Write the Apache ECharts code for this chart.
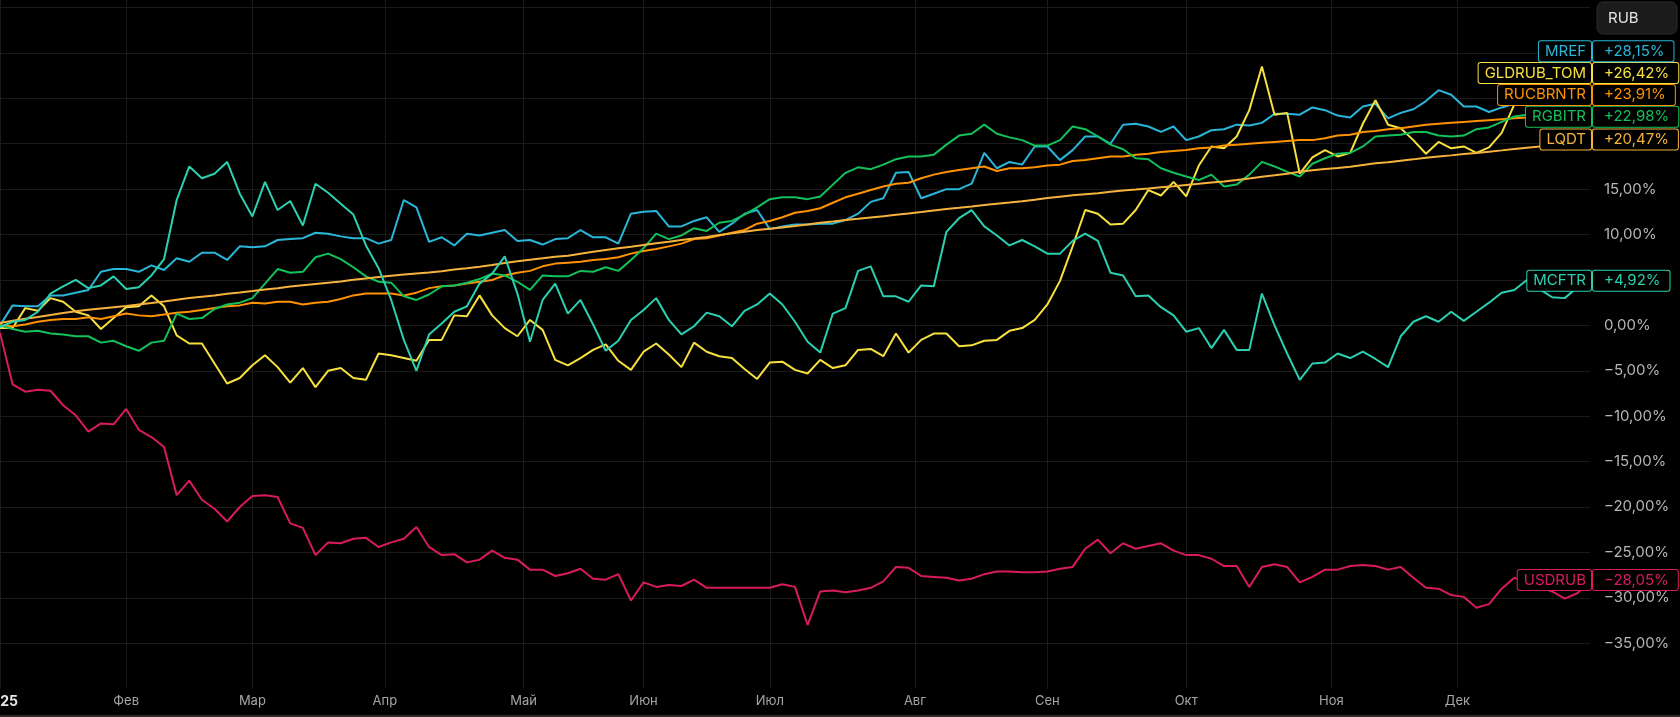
<!DOCTYPE html>
<html>
<head>
<meta charset="utf-8">
<style>
  html, body { margin: 0; padding: 0; background: #000; }
  #chart { width: 1680px; height: 717px; }
</style>
<script src="https://cdn.jsdelivr.net/npm/echarts@6/dist/echarts.min.js"></script>
</head>
<body>
<div id="chart"></div>
<script>
// торговые дни по месяцам 2025 (первая подпись - год)
const monthNames = ['2025', 'Фев', 'Мар', 'Апр', 'Май', 'Июн', 'Июл', 'Авг', 'Сен', 'Окт', 'Ноя', 'Дек'];
const tradingDays = [20, 20, 21, 22, 19, 20, 23, 21, 22, 23, 20, 22];
const step = 2; // значения ниже - каждый 2-й торговый день, %

const mref = [
  0.0, 2.2, 2.1, 2.1, 3.3, 3.3, 3.6, 3.9, 5.9, 6.2,
  6.2, 5.9, 6.6, 6.1, 7.4, 7.0, 8.0, 8.0, 7.2, 8.7,
  8.6, 8.7, 9.4, 9.5, 9.6, 10.2, 10.1, 9.8, 9.6, 9.6,
  9.0, 9.4, 13.8, 13.0, 9.2, 9.7, 8.8, 10.1, 9.9, 10.2,
  10.5, 9.3, 9.4, 8.9, 9.5, 9.6, 10.5, 9.7, 9.7, 9.0,
  12.3, 12.5, 12.6, 10.9, 10.9, 11.5, 11.9, 10.3, 11.2, 12.3,
  12.7, 10.6, 10.9, 11.1, 11.1, 11.2, 11.2, 11.6, 12.3, 13.6,
  14.0, 16.8, 16.9, 14.0, 14.5, 15.0, 15.0, 15.6, 19.0, 17.3,
  18.0, 17.7, 19.7, 19.7, 18.2, 19.3, 20.8, 20.8, 20.0, 22.1,
  22.2, 21.9, 21.3, 21.9, 20.4, 20.8, 21.5, 21.6, 22.1, 22.0,
  22.3, 23.3, 23.3, 23.2, 24.0, 23.7, 23.1, 22.9, 24.1, 24.4,
  22.8, 23.4, 23.8, 24.7, 25.9, 25.4, 24.1, 24.1, 23.5, 24.0,
  24.4, 25.3, 26.3, 27.0, 27.4, 27.8, 28.15
];
const gldrub = [
  -0.3, -0.3, 1.9, 1.6, 3.0, 2.6, 1.5, 1.1, -0.4, 0.8,
  2.0, 2.1, 3.3, 2.1, -1.1, -2.0, -2.0, -4.2, -6.4, -5.8,
  -4.4, -3.3, -4.6, -6.3, -4.7, -6.8, -5.0, -4.7, -5.8, -6.0,
  -3.1, -3.3, -3.6, -3.9, -1.6, -1.6, 1.1, 1.0, 3.3, 1.1,
  -0.3, -1.2, 0.6, -0.5, -3.8, -4.4, -3.6, -2.7, -2.1, -3.9,
  -4.9, -2.9, -2.0, -3.2, -4.6, -1.9, -2.9, -3.4, -3.6, -4.8,
  -5.9, -4.1, -4.0, -4.9, -5.3, -3.8, -4.7, -4.4, -2.7, -2.6,
  -3.4, -0.9, -3.0, -1.6, -0.9, -0.9, -2.3, -2.2, -1.7, -1.6,
  -0.6, -0.3, 0.6, 2.3, 4.9, 8.7, 12.7, 12.3, 11.1, 11.2,
  12.7, 14.9, 14.3, 15.8, 14.2, 17.6, 19.7, 19.5, 20.8, 23.7,
  28.5, 23.2, 23.4, 16.7, 18.5, 19.3, 18.6, 19.0, 22.2, 24.8,
  22.1, 21.7, 20.4, 18.9, 20.2, 19.5, 19.7, 19.0, 19.6, 21.2,
  24.3, 26.0, 26.8, 26.5, 26.2, 26.3, 26.42
];
const rucbrntr = [
  0.0, -0.1, 0.1, 0.4, 0.6, 0.7, 0.7, 0.9, 0.7, 1.0,
  1.3, 1.1, 1.0, 1.2, 1.4, 1.5, 1.7, 1.9, 2.1, 2.2,
  2.5, 2.4, 2.6, 2.6, 2.3, 2.5, 2.6, 2.9, 3.3, 3.5,
  3.5, 3.5, 3.3, 3.6, 4.1, 4.3, 4.4, 4.6, 4.8, 5.0,
  5.5, 5.8, 6.0, 6.5, 6.8, 6.9, 7.0, 7.2, 7.3, 7.5,
  7.9, 8.2, 8.4, 8.7, 9.0, 9.5, 9.6, 9.9, 10.2, 10.5,
  11.2, 11.5, 11.9, 12.4, 12.6, 12.9, 13.5, 14.1, 14.5, 14.9,
  15.3, 15.6, 15.7, 16.2, 16.6, 16.9, 17.1, 17.3, 17.5, 17.0,
  17.3, 17.3, 17.4, 17.6, 17.7, 18.1, 18.2, 18.4, 18.6, 18.6,
  18.8, 18.9, 19.1, 19.2, 19.3, 19.5, 19.6, 19.8, 19.9, 20.0,
  20.1, 20.2, 20.3, 20.4, 20.4, 20.6, 20.9, 21.0, 21.3, 21.4,
  21.6, 21.7, 21.9, 22.1, 22.2, 22.3, 22.4, 22.5, 22.6, 22.7,
  22.8, 22.9, 23.1, 23.3, 23.5, 23.7, 23.91
];
const rgbitr = [
  0.0, -0.4, -0.7, -0.6, -0.9, -1.0, -1.2, -1.2, -1.9, -1.7,
  -2.3, -2.8, -1.9, -1.7, 1.3, 0.7, 0.8, 1.8, 2.3, 2.5,
  3.0, 4.6, 6.2, 5.8, 5.9, 7.5, 7.9, 7.3, 6.4, 5.4,
  4.8, 4.7, 3.2, 2.8, 3.4, 4.3, 4.4, 4.7, 5.1, 5.7,
  5.5, 4.8, 3.9, 5.5, 5.4, 5.4, 6.0, 5.9, 6.4, 6.0,
  7.2, 8.5, 10.1, 9.5, 9.9, 10.7, 10.4, 11.3, 11.5, 12.2,
  13.0, 13.9, 14.1, 14.1, 13.9, 14.2, 15.5, 16.8, 17.4, 17.2,
  17.7, 18.3, 18.6, 18.6, 18.8, 19.9, 20.9, 21.1, 22.1, 21.1,
  20.7, 20.4, 19.8, 19.8, 20.4, 21.9, 21.6, 20.8, 19.9, 19.4,
  18.4, 18.3, 17.3, 16.8, 16.4, 16.0, 16.6, 15.3, 15.5, 16.6,
  18.0, 17.5, 16.9, 16.4, 17.8, 18.4, 18.9, 19.0, 19.7, 20.8,
  20.9, 21.0, 21.3, 21.3, 20.9, 20.8, 20.9, 21.6, 21.8, 22.4,
  23.0, 23.2, 23.0, 23.0, 22.9, 23.0, 22.98
];
const lqdt = [
  0.25, 0.5, 0.73, 0.92, 1.15, 1.35, 1.55, 1.72, 1.86, 2.0,
  2.13, 2.31, 2.46, 2.64, 2.83, 3.01, 3.16, 3.3, 3.49, 3.63,
  3.78, 3.95, 4.1, 4.28, 4.42, 4.56, 4.7, 4.84, 5.02, 5.17,
  5.32, 5.47, 5.61, 5.72, 5.83, 5.96, 6.14, 6.28, 6.46, 6.66,
  6.88, 7.05, 7.23, 7.38, 7.56, 7.67, 7.89, 8.1, 8.3, 8.48,
  8.66, 8.85, 9.03, 9.21, 9.4, 9.56, 9.74, 9.95, 10.13, 10.32,
  10.5, 10.65, 10.79, 10.93, 11.12, 11.3, 11.44, 11.6, 11.73, 11.89,
  12.02, 12.19, 12.33, 12.48, 12.66, 12.81, 12.94, 13.08, 13.25, 13.4,
  13.53, 13.67, 13.84, 14.02, 14.17, 14.32, 14.44, 14.56, 14.72, 14.84,
  14.95, 15.07, 15.2, 15.32, 15.46, 15.6, 15.72, 15.84, 16.0, 16.18,
  16.36, 16.52, 16.7, 16.92, 17.09, 17.22, 17.34, 17.48, 17.66, 17.84,
  17.96, 18.13, 18.28, 18.46, 18.6, 18.72, 18.86, 18.98, 19.13, 19.27,
  19.42, 19.57, 19.69, 19.85, 20.05, 20.25, 20.47
];
const mcftr = [
  -0.2, 0.4, 0.6, 1.5, 3.5, 4.3, 5.0, 4.1, 4.4, 5.4,
  4.0, 4.2, 5.5, 7.3, 13.8, 17.5, 16.2, 16.7, 18.0, 14.5,
  12.0, 15.8, 12.7, 13.7, 11.0, 15.6, 14.6, 13.4, 12.2, 8.8,
  6.3, 2.8, -1.6, -5.0, -1.0, 0.2, 1.5, 2.1, 4.6, 5.7,
  7.6, 3.5, -1.8, 2.8, 4.6, 1.3, 2.8, 0.1, -2.8, -1.7,
  0.6, 1.7, 3.0, 0.6, -1.0, -0.1, 1.4, 1.0, -0.1, 1.6,
  2.3, 3.5, 2.3, 0.4, -1.8, -3.0, 1.3, 1.9, 6.0, 6.5,
  3.2, 3.2, 2.6, 4.4, 4.3, 10.3, 11.8, 12.7, 10.9, 9.9,
  8.8, 9.4, 8.7, 7.9, 7.9, 9.3, 10.1, 9.3, 5.8, 5.5,
  3.2, 3.3, 2.0, 1.1, -0.7, -0.3, -2.5, -0.5, -2.7, -2.7,
  3.5, 0.0, -3.1, -6.0, -4.2, -4.1, -3.1, -3.6, -2.9, -3.7,
  -4.6, -1.2, 0.4, 1.0, 0.4, 1.5, 0.5, 1.5, 2.5, 3.6,
  3.9, 5.0, 4.0, 3.1, 3.0, 4.2, 4.92
];
const usdrub = [
  -0.8, -6.5, -7.3, -7.1, -7.2, -8.8, -9.9, -11.7, -10.8, -10.9,
  -9.2, -11.5, -12.3, -13.4, -18.7, -17.1, -19.2, -20.2, -21.6, -20.0,
  -18.8, -18.7, -18.9, -21.8, -22.3, -25.3, -23.9, -24.0, -23.5, -23.4,
  -24.4, -23.9, -23.5, -22.2, -24.4, -25.3, -25.2, -26.1, -25.8, -24.8,
  -25.6, -25.8, -26.9, -26.9, -27.6, -27.3, -26.8, -27.9, -28.0, -27.4,
  -30.3, -28.3, -28.8, -28.6, -28.7, -28.0, -28.9, -28.9, -28.9, -28.9,
  -28.9, -28.9, -28.5, -28.8, -33.0, -29.3, -29.2, -29.4, -29.2, -28.9,
  -28.2, -26.6, -26.7, -27.6, -27.7, -27.8, -28.1, -27.9, -27.4, -27.1,
  -27.1, -27.2, -27.2, -27.1, -26.8, -26.6, -24.6, -23.6, -25.1, -24.0,
  -24.6, -24.3, -24.0, -24.8, -25.3, -25.3, -25.7, -26.5, -26.5, -28.8,
  -26.6, -26.3, -26.6, -28.3, -27.7, -26.9, -26.9, -26.5, -26.4, -26.5,
  -26.9, -26.6, -27.8, -28.9, -29.0, -29.7, -29.9, -31.1, -30.7, -29.0,
  -27.8, -28.3, -28.8, -29.3, -30.1, -29.5, -28.05
];

const seriesDefs = [
  { name: 'MREF', color: '#2ab6d8', values: mref },
  { name: 'GLDRUB_TOM', color: '#f7e03f', values: gldrub },
  { name: 'RUCBRNTR', color: '#ff9200', values: rucbrntr },
  { name: 'RGBITR', color: '#12c15a', values: rgbitr },
  { name: 'LQDT', color: '#f6b33c', values: lqdt },
  { name: 'MCFTR', color: '#2bd0b0', values: mcftr },
  { name: 'USDRUB', color: '#d81b60', values: usdrub }
];

const fontFamily = "Inter, 'Noto Sans', sans-serif";
const gridColor = '#1a1a1a';

// категории - торговые дни, подпись только у первого дня месяца
const categories = [];
tradingDays.forEach((n, m) => {
  for (let k = 0; k < n; k++) categories.push(monthNames[m] + '|' + k);
});
const isMonthStart = (i, v) => String(v).endsWith('|0');

function pct(v, signed) {
  const s = Math.abs(v).toFixed(2).replace('.', ',') + '%';
  if (v < 0) return '\u2212' + s;
  return (signed && v > 0 ? '+' : '') + s;
}

// полосы по y, закрытые плашками - подписи шкалы там не рисуются
let covered = [];
function yLabel(v) {
  if (Math.abs(v % 5) > 1e-6) return '';
  const y = chart.convertToPixel({ yAxisIndex: 0 }, v);
  if (covered.some(r => y + 5 > r[0] && y - 5 < r[1])) return '';
  return pct(v, false);
}

const chart = echarts.init(document.getElementById('chart'), null, { renderer: 'canvas' });

chart.setOption({
  backgroundColor: '#000',
  animation: false,
  grid: { left: 0, right: 90, top: 0, bottom: 28.4, containLabel: false, outerBoundsMode: 'none' },
  xAxis: {
    type: 'category',
    data: categories,
    boundaryGap: false,
    axisLine: { show: false },
    axisTick: { show: false },
    axisLabel: {
      interval: isMonthStart,
      margin: 6,
      color: '#a6a6a6',
      fontSize: 13,
      fontFamily: fontFamily,
      formatter: v => {
        const name = v.split('|')[0];
        return name === '2025' ? '{y|' + name + '}' : name;
      },
      rich: { y: { color: '#e4e4e4', fontWeight: 'bold', fontSize: 14, fontFamily: fontFamily } }
    },
    splitLine: { show: true, interval: isMonthStart, lineStyle: { color: gridColor, width: 1 } }
  },
  yAxis: {
    type: 'value',
    position: 'right',
    min: -40,
    max: 35.83,
    interval: 5,
    axisLine: { show: false },
    axisTick: { show: false },
    splitLine: { show: true, showMinLine: false, showMaxLine: false, lineStyle: { color: gridColor, width: 1 } },
    axisLabel: {
      margin: 14,
      align: 'left',
      color: '#b6b6b6',
      fontSize: 15,
      fontFamily: fontFamily,
      showMinLabel: false,
      formatter: v => (Math.abs(v % 5) > 1e-6 ? '' : pct(v, false))
    }
  },
  series: seriesDefs.map(s => ({
    name: s.name,
    type: 'line',
    data: s.values.map((v, k) => [k * step, v]),
    showSymbol: false,
    symbol: 'none',
    silent: true,
    lineStyle: { color: s.color, width: 2 },
    itemStyle: { color: s.color },
    emphasis: { disabled: true }
  }))
});

// плашки с названием и последним значением справа
function drawTags() {
  const rowH = 21.8;
  const halfH = 10.5;
  const tags = seriesDefs.map((s, i) => {
    const last = s.values.length - 1;
    const p = chart.convertToPixel({ seriesIndex: i }, [last * step, s.values[last]]);
    return { name: s.name, color: s.color, v: s.values[last], x: p[0], y: p[1] };
  });
  tags.sort((a, b) => b.y - a.y);
  for (let k = 1; k < tags.length; k++) {
    tags[k].y = Math.min(tags[k].y, tags[k - 1].y - rowH);
  }
  const box = c => ({
    fill: c, backgroundColor: '#000', borderColor: c, borderWidth: 1, borderRadius: 2,
    font: '15px ' + fontFamily, lineHeight: 16,
    verticalAlign: 'middle', textVerticalAlign: 'middle'
  });
  const els = [];
  covered = [];
  tags.forEach(t => {
    covered.push([t.y - halfH, t.y + halfH]);
    els.push({
      type: 'text', z: 100, x: t.x + 1, y: t.y,
      style: Object.assign(box(t.color), { text: t.name, align: 'right', textAlign: 'right', padding: [2, 5, 2, 6] })
    });
    els.push({
      type: 'text', z: 100, x: t.x + 3, y: t.y,
      style: Object.assign(box(t.color), { text: pct(t.v, true), align: 'left', textAlign: 'left', padding: [2, 9, 2, 11] })
    });
  });
  // кнопка валюты
  const btn = { x: 1597, y: 2, w: 80, h: 32 };
  covered.push([btn.y, btn.y + btn.h]);
  els.push({
    type: 'group', z: 100, x: btn.x, y: btn.y,
    children: [
      { type: 'rect', z: 100, shape: { x: 0, y: 0, width: btn.w, height: btn.h, r: 6 }, style: { fill: '#1b1b1b', stroke: '#2b2b2b', lineWidth: 1 } },
      { type: 'text', z: 101, x: 11, y: btn.h / 2, style: { text: 'RUB', fill: '#e2e2e2', font: '15px ' + fontFamily, verticalAlign: 'middle', textVerticalAlign: 'middle' } }
    ]
  });
  // нижняя граница панели
  els.push({ type: 'rect', z: 100, shape: { x: 0, y: 715, width: 1680, height: 2 }, style: { fill: '#2a2a2a' } });
  chart.setOption({ graphic: els, yAxis: { axisLabel: { formatter: yLabel } } });
}
drawTags();
</script>
</body>
</html>
